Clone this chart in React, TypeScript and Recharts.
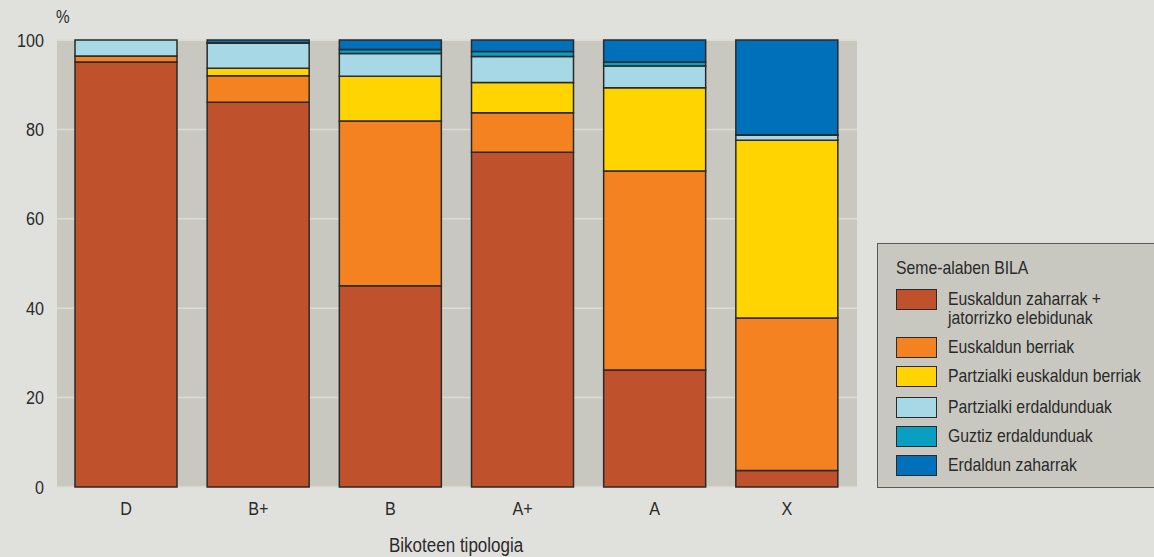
import React from "react";
import { BarChart, Bar, XAxis, YAxis, CartesianGrid } from "recharts";

const categories = ["D", "B+", "B", "A+", "A", "X"];
const seriesNames = [
  "Euskaldun zaharrak + jatorrizko elebidunak",
  "Euskaldun berriak",
  "Partzialki euskaldun berriak",
  "Partzialki erdaldunduak",
  "Guztiz erdaldunduak",
  "Erdaldun zaharrak",
];
const euskaldunZaharrak = [95.1, 86.1, 45.0, 74.9, 26.2, 3.7];
const euskaldunBerriak = [1.3, 5.9, 36.9, 8.8, 44.5, 34.1];
const partzialkiEuskaldunBerriak = [0, 1.7, 10.0, 6.8, 18.6, 39.8];
const partzialkiErdaldunduak = [3.6, 5.6, 5.1, 5.8, 4.9, 1.1];
const guztizErdaldunduak = [0, 0.1, 0.9, 1.1, 0.9, 0.1];
const erdaldunZaharrak = [0, 0.6, 2.1, 2.6, 4.9, 21.2];
const yTicks = [0, 20, 40, 60, 80, 100];

const colors = ["#bf512d", "#f58220", "#ffd400", "#a7d8e6", "#0a9fc0", "#0070bb"];
const keys = ["s0", "s1", "s2", "s3", "s4", "s5"];
const seriesValues = [
  euskaldunZaharrak,
  euskaldunBerriak,
  partzialkiEuskaldunBerriak,
  partzialkiErdaldunduak,
  guztizErdaldunduak,
  erdaldunZaharrak,
];

const data = categories.map((c, i) => {
  const row: any = { name: c };
  keys.forEach((k, j) => {
    row[k] = seriesValues[j][i];
  });
  return row;
});

const FONT = "'Liberation Sans Narrow', 'Liberation Sans', Arial, sans-serif";
const TEXT = "#2a2a2a";
const narrow = (s: number): React.CSSProperties => ({
  transform: `scaleX(${s})`,
  transformOrigin: "left center",
  whiteSpace: "nowrap",
});

const YTick = (props: any) => {
  const { x, y, payload } = props;
  return (
    <g transform={`translate(${x},${y}) scale(0.85,1)`}>
      <text x={0} y={0} dy="0.35em" textAnchor="end" fill={TEXT} fontSize={19} fontFamily={FONT}>
        {payload.value}
      </text>
    </g>
  );
};

const XTick = (props: any) => {
  const { x, y, payload } = props;
  return (
    <g transform={`translate(${x},${y}) scale(0.85,1)`}>
      <text x={0} y={0} dy="0.71em" textAnchor="middle" fill={TEXT} fontSize={19} fontFamily={FONT}>
        {payload.value}
      </text>
    </g>
  );
};

const LegendBox = () => (
  <div
    style={{
      position: "absolute",
      left: 877,
      top: 243,
      width: 290,
      height: 245,
      background: "#c8c8c0",
      border: "1.5px solid #5a5a5a",
      boxSizing: "border-box",
      fontFamily: FONT,
      color: TEXT,
      fontSize: 19,
    }}
  >
    <div style={{ position: "absolute", left: 18, top: 13, lineHeight: "22px", ...narrow(0.83) }}>Seme-alaben BILA</div>
    {seriesNames.map((n, i) => {
      const tops = [45, 93, 122, 153, 182, 211];
      const lines = i === 0 ? ["Euskaldun zaharrak +", "jatorrizko elebidunak"] : [n];
      return (
        <div key={n}>
          <div
            style={{
              position: "absolute",
              left: 18,
              top: tops[i],
              width: 41,
              height: 21,
              background: colors[i],
              border: "1.5px solid #2a2a2a",
              boxSizing: "border-box",
            }}
          />
          <div style={{ position: "absolute", left: 70, top: tops[i] - 0.5, lineHeight: "19px", ...narrow(0.83) }}>
            {lines.map((l) => (
              <div key={l}>{l}</div>
            ))}
          </div>
        </div>
      );
    })}
  </div>
);

export default function App() {
  return (
    <div
      style={{
        position: "absolute",
        left: 0,
        top: 0,
        width: 1154,
        height: 557,
        background: "#e0e0dc",
        overflow: "hidden",
      }}
    >
      <div
        style={{
          position: "absolute",
          left: 56,
          top: 7,
          fontFamily: FONT,
          fontSize: 18,
          color: TEXT,
          ...narrow(0.85),
        }}
      >
        %
      </div>
      <div
        style={{
          position: "absolute",
          left: 389,
          top: 534,
          fontFamily: FONT,
          fontSize: 20,
          color: TEXT,
          ...narrow(0.85),
        }}
      >
        Bikoteen tipologia
      </div>
      <BarChart
        width={1154}
        height={557}
        data={data}
        margin={{ top: 40, right: 297, bottom: 40, left: 0 }}
        barSize={102}
      >
        <CartesianGrid vertical={false} fill="#c8c8c0" stroke="#dcdcd6" strokeWidth={1.5} />
        <XAxis
          dataKey="name"
          height={30}
          axisLine={false}
          tickLine={false}
          tickMargin={8}
          tick={<XTick />}
          interval={0}
          padding={{ left: 3, right: 4 }}
        />
        <YAxis
          width={57}
          domain={[0, 100]}
          ticks={yTicks}
          axisLine={false}
          tickLine={false}
          tickMargin={7}
          tick={<YTick />}
        />
        {keys.map((k, i) => (
          <Bar
            key={k}
            dataKey={k}
            name={seriesNames[i]}
            stackId="a"
            fill={colors[i]}
            stroke="#2a2a2a"
            strokeWidth={1.5}
            isAnimationActive={false}
          />
        ))}
      </BarChart>
      <LegendBox />
    </div>
  );
}
